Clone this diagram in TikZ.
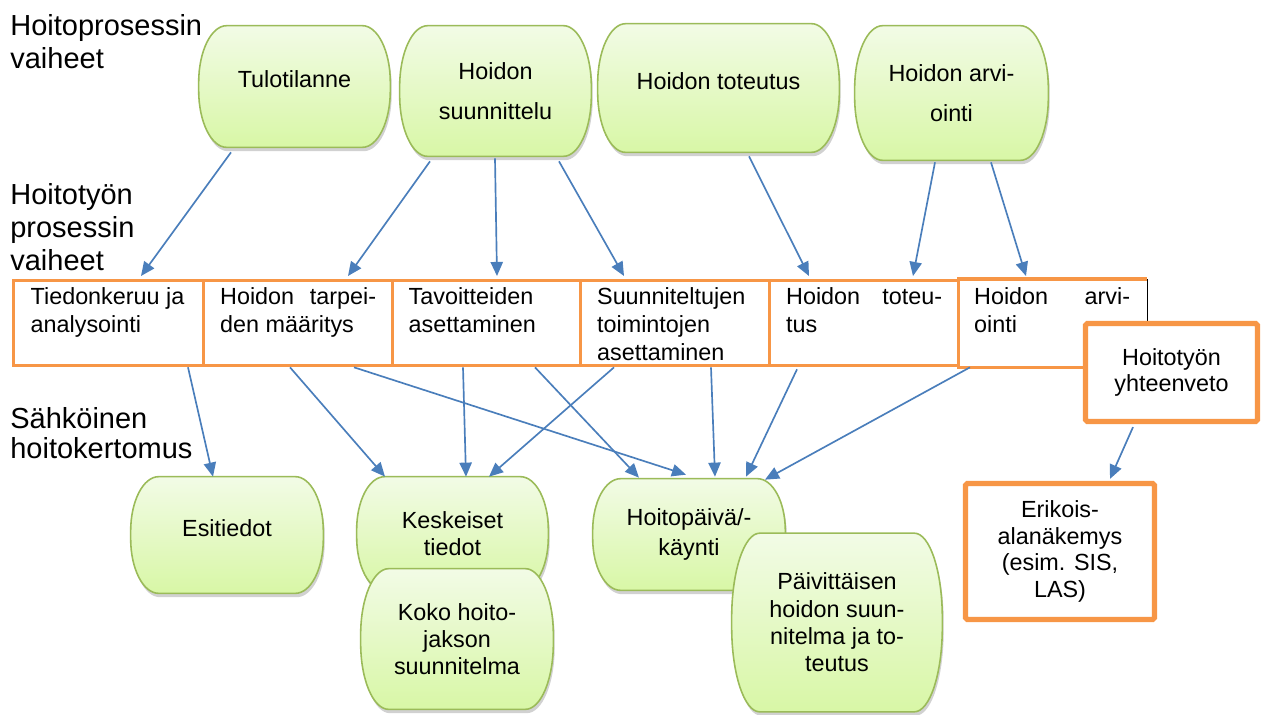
\documentclass[tikz,border=0pt]{standalone}
\usepackage{fontspec}
\setmainfont{Liberation Sans}
\usetikzlibrary{calc,shadows,arrows.meta}
\pgfdeclarelayer{bg}
\pgfsetlayers{bg,main}
\definecolor{orng}{HTML}{F79646}
\definecolor{gline}{HTML}{9BBB59}
\definecolor{gtop}{HTML}{F2FBE6}
\definecolor{gbot}{HTML}{D8F7A6}
\definecolor{ablue}{HTML}{4A7EBB}
\newcommand\pill[2]{%
  \begin{pgfonlayer}{bg}
  \path[pillshape] ($(#1.north west)+(28,0)$) -- ($(#1.north east)+(-28,0)$)
    arc[start angle=90,end angle=0,x radius=0.56cm,y radius=#2cm]
    -- ($(#1.south east)+(0,-#2*50)$)
    arc[start angle=0,end angle=-90,x radius=0.56cm,y radius=#2cm]
    -- ($(#1.south west)+(28,0)$)
    arc[start angle=270,end angle=180,x radius=0.56cm,y radius=#2cm]
    -- ($(#1.north west)+(0,#2*50)$)
    arc[start angle=180,end angle=90,x radius=0.56cm,y radius=#2cm]
    -- cycle;
  \end{pgfonlayer}}
\newcommand\celltext[1]{\parbox[c][1.7cm][t]{3.12cm}{\raggedright\rule{0pt}{13.6pt}#1}}
\begin{document}
\begin{tikzpicture}[x=0.02cm,y=-0.02cm,
  gn/.style 2 args={minimum width=#1cm, minimum height=#2cm, inner sep=0pt, align=center},
  pillshape/.style={draw=gline, line width=0.9pt, top color=gtop, bottom color=gbot,
    drop shadow={shadow xshift=0.8pt, shadow yshift=-2.2pt, opacity=0.3, fill=black!60}},
  topf/.style={font=\fontsize{13.3}{22.8}\selectfont},
  botf/.style={font=\fontsize{13.3}{15.5}\selectfont},
  raised/.style={text depth=8pt},
  cell/.style={draw=orng, line width=1.9pt, minimum width=#1cm, minimum height=1.7cm,
    inner sep=0pt, anchor=north west, font=\fontsize{13.3}{15.9}\selectfont},
  obox/.style={draw=orng, line width=3pt, fill=white, rounded corners=1pt, inner sep=0pt,
    align=center, font=\fontsize{13.3}{15.2}\selectfont},
  lab/.style={anchor=north west, inner sep=0pt, align=left, font=\fontsize{16.5}{18.8}\selectfont},
  arr/.style={draw=ablue, line width=0.95pt, -{Triangle[length=8pt,width=7pt]}}
]
\useasboundingbox (0,0) rectangle (1262,714);

% left labels
\node[lab] (l1) at (10,14) {Hoitoprosessin\\vaiheet};
\node[lab] (l2) at (10,183) {Hoitotyön\\prosessin\\vaiheet};
\node[lab, font=\fontsize{16.5}{17.2}\selectfont] (l3) at (10,407) {Sähköinen\\hoitokertomus};

% top row
\node[gn={3.82}{2.42}, topf, raised] (tulo) at (294.5,86.5) {Tulotilanne}; \pill{tulo}{1.14}
\node[gn={3.82}{2.6}, topf] (suun) at (495.5,91) {Hoidon\\suunnittelu}; \pill{suun}{1.22}
\node[gn={4.82}{2.56}, topf, raised] (tote) at (718.5,88) {Hoidon toteutus}; \pill{tote}{1.2}
\node[gn={3.86}{2.68}, topf] (arvi) at (951.5,93) {Hoidon arvi-\\ointi}; \pill{arvi}{1.26}

% middle row
\node[cell=3.8] (c1) at (12,279) {\celltext{Tiedonkeruu~ja\newline analysointi}};
\node[cell=3.78] (c2) at (202,279) {\celltext{Hoidon\hfill tarpei-\newline den määritys}};
\node[cell=3.76] (c3) at (391,279) {\celltext{Tavoitteiden\newline asettaminen}};
\node[cell=3.78] (c4) at (579,279) {\celltext{Suunniteltujen\newline toimintojen\newline asettaminen}};
\node[cell=3.78] (c5) at (768,279) {\celltext{Hoidon\hfill toteu-\newline tus}};
\node[cell=3.74, draw=none] (c6) at (957,279) {\celltext{Hoidon\hfill arvi-\newline ointi}};
\draw[orng, line width=1.9pt] (c6.north west) -- (c6.north east);
\draw[orng, line width=1.9pt] (c6.south west) -- (c6.south east);
\draw[black, line width=0.9pt] (c6.north east) -- (c6.south east);

% orange boxes
\node[obox, minimum width=3.44cm, minimum height=1.96cm] (yht) at (1171.5,372.5) {Hoitotyön\\yhteenveto};
\node[obox, minimum width=3.78cm, minimum height=2.72cm] (erik) at (1060,551.5) {Erikois-\\alanäkemys\\(esim. SIS,\\LAS)};

% bottom row
\node[gn={3.84}{2.32}, botf, raised] (esit) at (227,535) {Esitiedot}; \pill{esit}{1.09}
\node[gn={3.82}{2.26}, botf] (kesk) at (452.5,533.5) {Keskeiset\\tiedot}; \pill{kesk}{1.06}
\node[gn={3.84}{2.8}, botf] (koko) at (457,639) {Koko hoito-\\jakson\\suunnitelma}; \pill{koko}{1.32}
\node[gn={3.84}{2.22}, font=\fontsize{13.3}{17}\selectfont] (hpv) at (689,534.5) {Hoitopäivä/-\\käynti}; \pill{hpv}{1.04}
\node[gn={4.2}{3.56}, font=\fontsize{13.3}{15.6}\selectfont] (paiv) at (837,622.5) {Päivittäisen\\hoidon suun-\\nitelma ja to-\\teutus}; \pill{paiv}{1.7}

% arrows top -> middle
\draw[arr] ($(tulo.south)+(-63.5,5)$) -- ($(c1.north west)+(129,-3)$);
\draw[arr] ($(suun.south)+(-65.5,5)$) -- ($(c2.north west)+(146,-3)$);
\draw[arr] ($(suun.south)+(-0.5,2)$) -- ($(c3.north west)+(106,-3)$);
\draw[arr] ($(suun.south)+(63.5,5)$) -- ($(c4.north west)+(45,-3)$);
\draw[arr] ($(tote.south)+(30.5,4)$) -- ($(c5.north west)+(41,-3)$);
\draw[arr] ($(arvi.south)+(-16.5,2)$) -- ($(c5.north west)+(145,-3)$);
\draw[arr] ($(arvi.south)+(39.5,2)$) -- ($(c6.north west)+(69,-3)$);

% arrows middle -> bottom
\draw[arr] ($(c1.south west)+(176,0)$) -- ($(esit.north)+(-14,0)$);
\draw[arr] ($(c2.south west)+(88,0)$) -- ($(kesk.north)+(-67.5,0)$);
\draw[arr] ($(c2.south west)+(152,0)$) -- ($(hpv.north)+(-3,-4)$);
\draw[arr] ($(c3.south west)+(72,0)$) -- ($(kesk.north)+(13.5,0)$);
\draw[arr] ($(c3.south west)+(144,0)$) -- ($(hpv.north)+(-50,-1)$);
\draw[arr] ($(c4.south west)+(35,0)$) -- ($(kesk.north)+(36.5,0)$);
\draw[arr] ($(c4.south west)+(132,0)$) -- ($(hpv.north)+(26,-2)$);
\draw[arr] ($(c5.south west)+(29,2)$) -- ($(hpv.north)+(57,-2)$);
\draw[arr] ($(c6.south west)+(13,0)$) -- ($(hpv.north)+(76,1)$);
\draw[arr] ($(yht.south)+(-38.5,3)$) -- ($(erik.north)+(50,-2)$);
\end{tikzpicture}
\end{document}
